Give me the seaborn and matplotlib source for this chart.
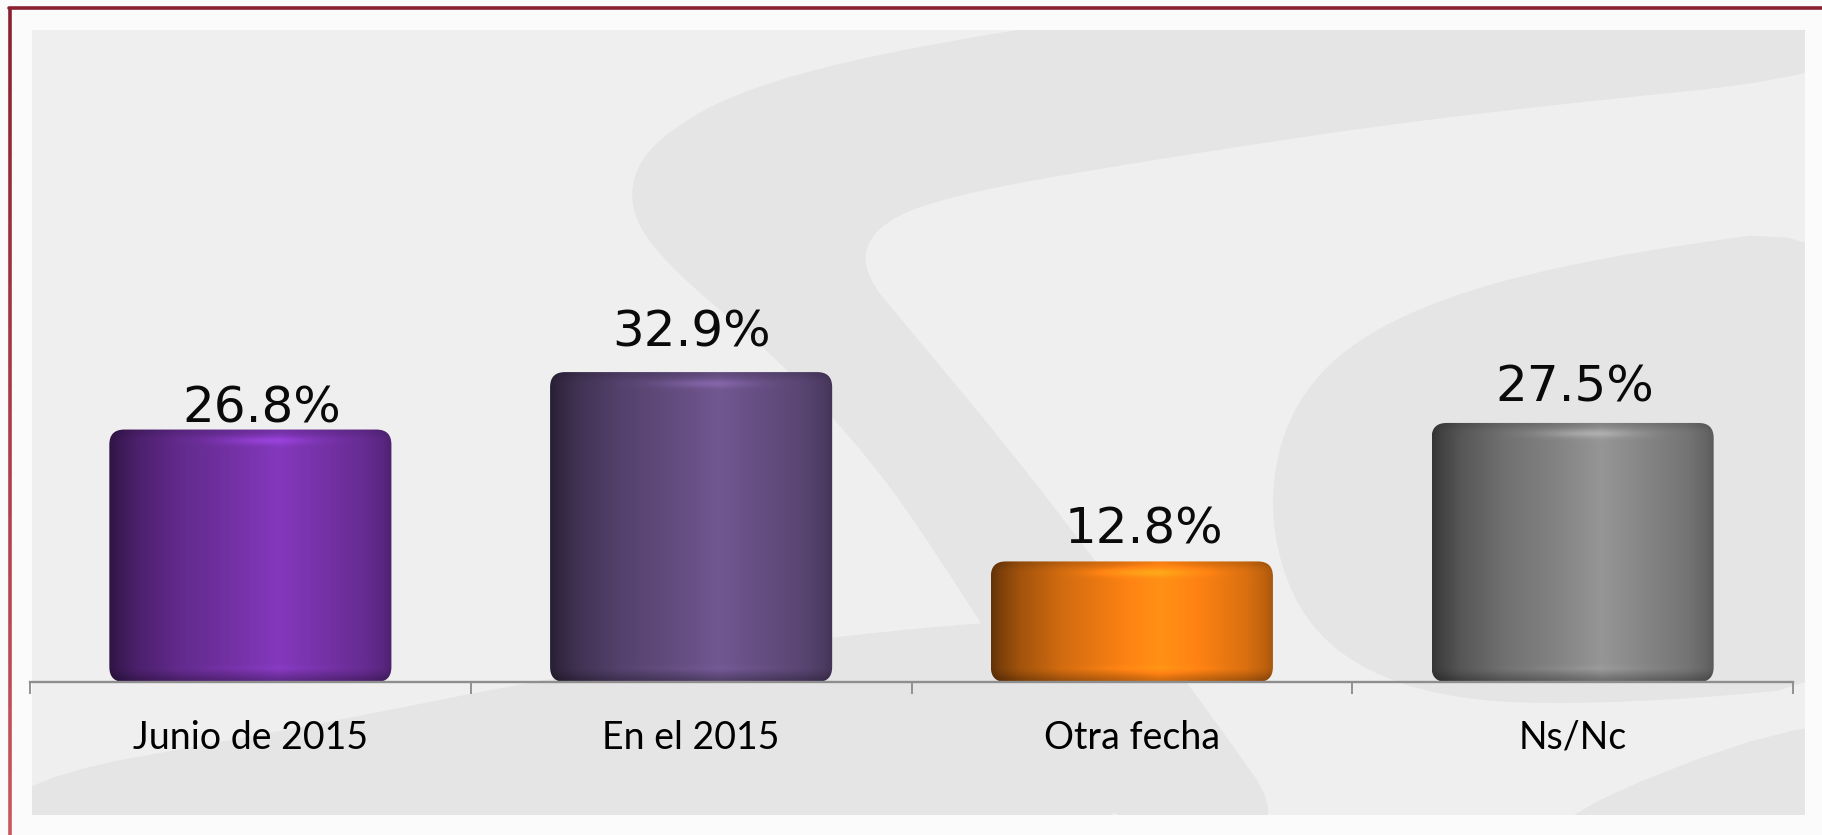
import numpy as np
import matplotlib
matplotlib.use("Agg")
import matplotlib.pyplot as plt
import seaborn as sns
from matplotlib.colors import to_rgb
from matplotlib.patches import FancyBboxPatch, Polygon, Rectangle
from matplotlib.lines import Line2D
from matplotlib.collections import LineCollection

categories = ["Junio de 2015", "En el 2015", "Otra fecha", "Ns/Nc"]
values = [26.8, 32.9, 12.8, 27.5]
value_labels = ["26.8%", "32.9%", "12.8%", "27.5%"]
bar_colors = ["#7030A0", "#604A7B", "#EE7A12", "#7F7F7F"]

# where each value label sits relative to its bar top (pixels)
label_dx = [11, 0, 12, 2]
label_gap = [7, 26, 18, 21]

W, H = 1822, 835
sns.set_style("white")
plt.rcParams["font.family"] = ["DejaVu Sans"]

fig = plt.figure(figsize=(W / 100, H / 100), dpi=100)
fig.patch.set_facecolor("#fbfbfb")


def px(x, y):
    # pixel coords (top-left origin) -> figure fraction
    return (x / W, 1 - y / H)


def smooth(pts, n=3):
    # chaikin corner cutting so the watermark looks less angular
    p = np.array(pts, dtype=float)
    for _ in range(n):
        q = np.roll(p, -1, axis=0)
        p = np.column_stack([0.75 * p + 0.25 * q, 0.25 * p + 0.75 * q]).reshape(-1, 2)
    return p


# grey panel with the faint watermark swooshes
panel = Rectangle(px(32, 815), (1805 - 32) / W, (815 - 30) / H,
                  transform=fig.transFigure, facecolor="#efefef",
                  edgecolor="none", zorder=-10)
fig.add_artist(panel)

swooshes = [
    [(1500, -40), (1000, 30), (760, 80), (650, 140), (625, 200), (660, 260),
     (780, 360), (880, 470), (960, 590), (1030, 700), (1120, 840),
     (1300, 840), (1200, 700), (1110, 580), (1010, 450), (910, 330),
     (860, 270), (875, 225), (950, 195), (1150, 160), (1450, 115),
     (1900, 70), (1900, -40)],
    [(-20, 900), (-20, 785), (300, 728), (600, 668), (900, 628), (1120, 615),
     (1150, 900)],
    [(1900, 215), (1560, 262), (1380, 320), (1290, 400), (1265, 520),
     (1310, 640), (1430, 700), (1620, 705), (1900, 680)],
    [(1440, 860), (1900, 680), (1900, 860)],
]
for pts in swooshes:
    poly = Polygon([px(*p) for p in smooth(pts)], closed=True,
                   transform=fig.transFigure, facecolor="#e5e5e5",
                   edgecolor="none", zorder=-9)
    fig.add_artist(poly)
    poly.set_clip_path(panel)

# red frame (left and top)
fig.add_artist(Line2D([px(9, 8)[0], 1], [px(9, 8)[1]] * 2, transform=fig.transFigure,
                      color="#8a2130", lw=2.6, zorder=-8))
ys = np.linspace(8, H, 40)
segs = [[px(10, ys[i]), px(10, ys[i + 1])] for i in range(len(ys) - 1)]
cols = [np.array(to_rgb("#8a2130")) * (1 - t) + np.array(to_rgb("#c9555e")) * t
        for t in np.linspace(0, 1, len(segs))]
fig.add_artist(LineCollection(segs, colors=cols, linewidths=2.6,
                              transform=fig.transFigure, zorder=-8))

# chart axes
ax = fig.add_axes([30 / W, 1 - 682 / H, 1763 / W, 652 / H])
ax.patch.set_alpha(0)

sns.barplot(x=categories, y=values, hue=categories, palette=bar_colors,
            legend=False, width=0.64, saturation=1, ax=ax)

px_per_x = 1763 / 4
px_per_y = 9.42
ymax = 652 / px_per_y


def cylinder(color, w_px, h_px):
    c = np.array(to_rgb(color))
    t = np.linspace(0, 1, w_px)
    kt = [0, 0.03, 0.1, 0.25, 0.45, 0.6, 0.75, 0.9, 0.97, 1]
    kf = [0.42, 0.52, 0.68, 0.88, 1.04, 1.18, 1.05, 0.92, 0.8, 0.7]
    f = np.interp(t, kt, kf)
    d = np.arange(h_px)
    dtop = d
    dbot = h_px - 1 - d
    v = np.ones(h_px)
    v -= 0.12 * np.exp(-(dtop / 6.0) ** 2)
    v -= 0.25 * np.exp(-(dbot / 8.0) ** 2)
    F = f[None, :] * v[:, None]
    hl = 0.22 * np.exp(-((dtop - 11) / 4.0) ** 2)[:, None] * \
        np.exp(-((t - 0.55) / 0.18) ** 2)[None, :]
    hl += 0.06 * np.exp(-((dbot - 13) / 3.0) ** 2)[:, None] * \
        np.exp(-((t - 0.55) / 0.3) ** 2)[None, :]
    F = F + hl
    rgb = np.clip(c[None, None, :] * F[:, :, None], 0, 1)
    return rgb


rx = 15 / px_per_x
ry = 15 / px_per_y
for bar, color in zip(ax.patches, bar_colors):
    x0, w, h = bar.get_x(), bar.get_width(), bar.get_height()
    bar.set_visible(False)
    img = cylinder(color, int(w * px_per_x), max(int(h * px_per_y), 2))
    clip = FancyBboxPatch((x0, 0), w, h,
                          boxstyle=f"round,pad=0,rounding_size={rx}",
                          mutation_aspect=ry / rx, transform=ax.transData,
                          facecolor="none", edgecolor="none")
    ax.add_patch(clip)
    im = ax.imshow(img, extent=(x0, x0 + w, 0, h), aspect="auto",
                   origin="upper", interpolation="bilinear", zorder=2)
    im.set_clip_path(clip)

for i, (v, lab) in enumerate(zip(values, value_labels)):
    ax.annotate(lab, (i, v),
                xytext=(label_dx[i] * 0.72, label_gap[i] * 0.72),
                textcoords="offset points",
                ha="center", va="baseline", fontsize=36, color="#0a0a0a",
                family=["DejaVu Sans"])

ax.set_xlim(-0.5, 3.5)
ax.set_ylim(0, ymax)
ax.set_xlabel("")
ax.set_ylabel("")
ax.set_yticks([])
ax.set_xticks(range(len(categories)))
ax.set_xticklabels(categories, fontsize=27, family=["Lato", "DejaVu Sans"])
ax.set_xticks(np.arange(-0.5, 4, 1), minor=True)
ax.tick_params(axis="x", which="major", bottom=True, length=0, pad=48,
               colors="black")
ax.tick_params(axis="x", which="minor", bottom=True, length=8.6, width=1.3,
               color="#8a8a8a", direction="out")
plt.setp(ax.get_xticklabels(), va="baseline")
for side in ["top", "left", "right"]:
    ax.spines[side].set_visible(False)
ax.spines["bottom"].set_color("#8e8e8e")
ax.spines["bottom"].set_linewidth(1.7)

fig.savefig("out.png", dpi=100)
